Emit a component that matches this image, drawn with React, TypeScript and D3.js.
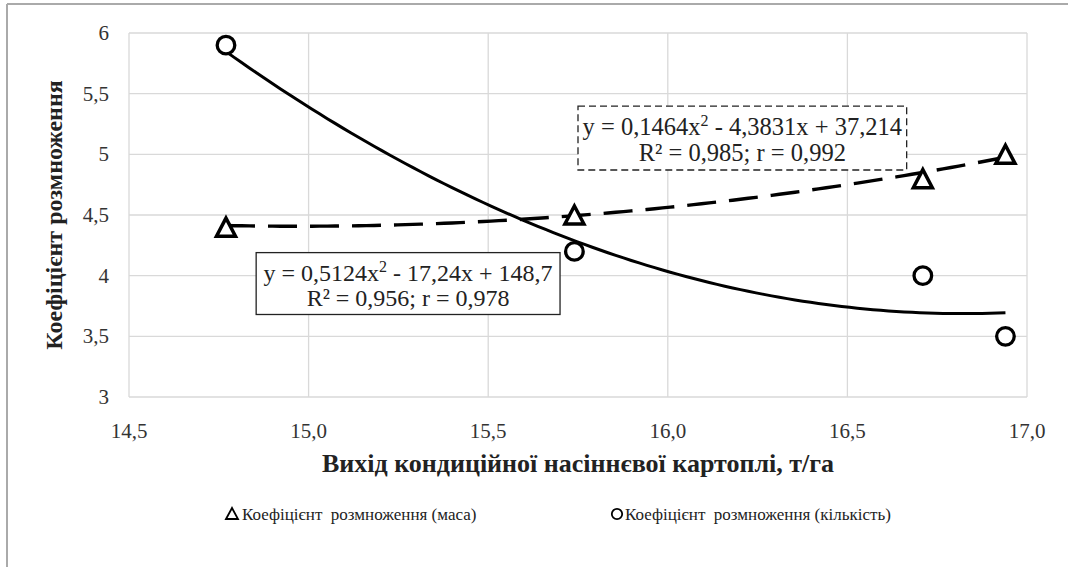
import React from "react"
import * as d3 from "d3"

// Вихід кондиційної насіннєвої картоплі, т/га
const xValues = [14.77, 15.74, 16.71, 16.94]
// Коефіцієнт розмноження (маса)
const massValues = [4.4, 4.5, 4.8, 5.0]
// Коефіцієнт розмноження (кількість)
const countValues = [5.9, 4.2, 4.0, 3.5]

// polynomial trendlines (a, b, c) as printed on the chart
const massTrend = [0.1464, -4.3831, 37.214]
const countTrend = [0.5124, -17.24, 148.7]

const xTicks = [14.5, 15.0, 15.5, 16.0, 16.5, 17.0]
const yTicks = [3, 3.5, 4, 4.5, 5, 5.5, 6]

const W = 1068
const H = 567
const margin = { top: 33, right: 41, bottom: 170, left: 129 }
const txt: React.CSSProperties = { fontFamily: '"Liberation Serif", serif', whiteSpace: "pre" }

const fmt = (v: number, digits: number) => v.toFixed(digits).replace(".", ",")

const Triangle = ({ x, y, s, w }: { x: number; y: number; s: number; w: number }) => {
  const h = s * 0.95
  return (
    <path
      d={`M${x},${y - h / 2}L${x + s / 2},${y + h / 2}L${x - s / 2},${y + h / 2}Z`}
      fill="white"
      stroke="black"
      strokeWidth={w}
    />
  )
}

export default function App() {
  const x = d3.scaleLinear().domain([14.5, 17.0]).range([margin.left, W - margin.right])
  const y = d3.scaleLinear().domain([3, 6]).range([H - margin.bottom, margin.top])

  const poly = (c: number[]) => (v: number) => c[0] * v * v + c[1] * v + c[2]
  const xs = d3.range(0, 101).map((i) => xValues[0] + ((xValues[3] - xValues[0]) * i) / 100)

  const massPath = d3.line<number>().x((d) => x(d)).y((d) => y(poly(massTrend)(d)))(xs)
  const countPath = d3.line<number>().x((d) => x(d)).y((d) => y(poly(countTrend)(d)))(xs)

  const plotL = x(14.5)
  const plotR = x(17.0)
  const plotT = y(6)
  const plotB = y(3)

  // equation boxes (anchored in data space)
  const b1 = { x0: x(15.75), x1: x(16.665), y0: y(5.398), y1: y(4.871) }
  const b2 = { x0: x(14.854), x1: x(15.7), y0: y(4.19), y1: y(3.68) }

  return (
    <svg width={W} height={H} style={{ position: "absolute", left: 0, top: 0, background: "white" }}>
      {/* outer frame */}
      <line x1={7} y1={4} x2={W} y2={4} stroke="#aaaaaa" strokeWidth={2} />
      <line x1={7} y1={4} x2={7} y2={H} stroke="#aaaaaa" strokeWidth={2} />

      {/* grid */}
      {yTicks.map((t) => (
        <line key={"gy" + t} x1={plotL} x2={plotR} y1={y(t)} y2={y(t)} stroke="#d9d9d9" strokeWidth={1.3} />
      ))}
      {xTicks.map((t) => (
        <line key={"gx" + t} x1={x(t)} x2={x(t)} y1={plotT} y2={plotB} stroke="#d9d9d9" strokeWidth={1.3} />
      ))}

      {/* tick labels */}
      {yTicks.map((t) => (
        <text key={"ly" + t} x={plotL - 20} y={y(t) + 7} textAnchor="end" style={txt} fontSize={21} fill="#333">
          {Number.isInteger(t) ? String(t) : fmt(t, 1)}
        </text>
      ))}
      {xTicks.map((t) => (
        <text key={"lx" + t} x={x(t)} y={plotB + 41} textAnchor="middle" style={txt} fontSize={21} fill="#333">
          {fmt(t, 1)}
        </text>
      ))}

      {/* axis titles */}
      <text
        transform={`translate(${62},${(plotT + plotB) / 2}) rotate(-90)`}
        textAnchor="middle"
        style={txt}
        fontSize={24}
        fontWeight="bold"
        fill="#222"
      >
        Коефіцієнт розмноження
      </text>
      <text x={(plotL + plotR) / 2} y={472} textAnchor="middle" style={txt} fontSize={26} fontWeight="bold" fill="#222">
        Вихід кондиційної насіннєвої картоплі, т/га
      </text>

      {/* trendlines */}
      <path d={massPath ?? ""} fill="none" stroke="black" strokeWidth={3.4} strokeDasharray="29,13" />
      <path d={countPath ?? ""} fill="none" stroke="black" strokeWidth={3} />

      {/* markers */}
      {xValues.map((v, i) => (
        <Triangle key={"t" + i} x={x(v)} y={y(massValues[i])} s={19} w={3.5} />
      ))}
      {xValues.map((v, i) => (
        <circle key={"c" + i} cx={x(v)} cy={y(countValues[i])} r={8.8} fill="white" stroke="black" strokeWidth={3.3} />
      ))}

      {/* equation box 1 (dashed) */}
      <rect x={b1.x0} y={b1.y0} width={b1.x1 - b1.x0} height={b1.y1 - b1.y0} fill="white" stroke="#222" strokeWidth={1.3} strokeDasharray="7,4" />
      <text x={(b1.x0 + b1.x1) / 2} y={b1.y0 + 29} textAnchor="middle" style={txt} fontSize={24.5} fill="#222">
        y = 0,1464x<tspan dy={-9} fontSize={16}>2</tspan><tspan dy={9}> - 4,3831x + 37,214</tspan>
      </text>
      <text x={(b1.x0 + b1.x1) / 2} y={b1.y0 + 55} textAnchor="middle" style={txt} fontSize={24.5} fill="#222">
        R² = 0,985; r = 0,992
      </text>

      {/* equation box 2 (solid) */}
      <rect x={b2.x0} y={b2.y0} width={b2.x1 - b2.x0} height={b2.y1 - b2.y0} fill="white" stroke="#222" strokeWidth={1.3} />
      <text x={(b2.x0 + b2.x1) / 2} y={b2.y0 + 28} textAnchor="middle" style={txt} fontSize={24} fill="#222">
        y = 0,5124x<tspan dy={-9} fontSize={16}>2</tspan><tspan dy={9}> - 17,24x + 148,7</tspan>
      </text>
      <text x={(b2.x0 + b2.x1) / 2} y={b2.y0 + 53} textAnchor="middle" style={txt} fontSize={24} fill="#222">
        R² = 0,956; r = 0,978
      </text>

      {/* legend */}
      <path d="M226,519L232,508L238,519Z" fill="white" stroke="black" strokeWidth={1.8} />
      <text x={242} y={520} style={txt} fontSize={17} fill="#222">
        {"Коефіцієнт  розмноження (маса)"}
      </text>
      <circle cx={617} cy={514} r={5.2} fill="white" stroke="black" strokeWidth={1.8} />
      <text x={625} y={520} style={txt} fontSize={17} fill="#222">
        {"Коефіцієнт  розмноження (кількість)"}
      </text>
    </svg>
  )
}
